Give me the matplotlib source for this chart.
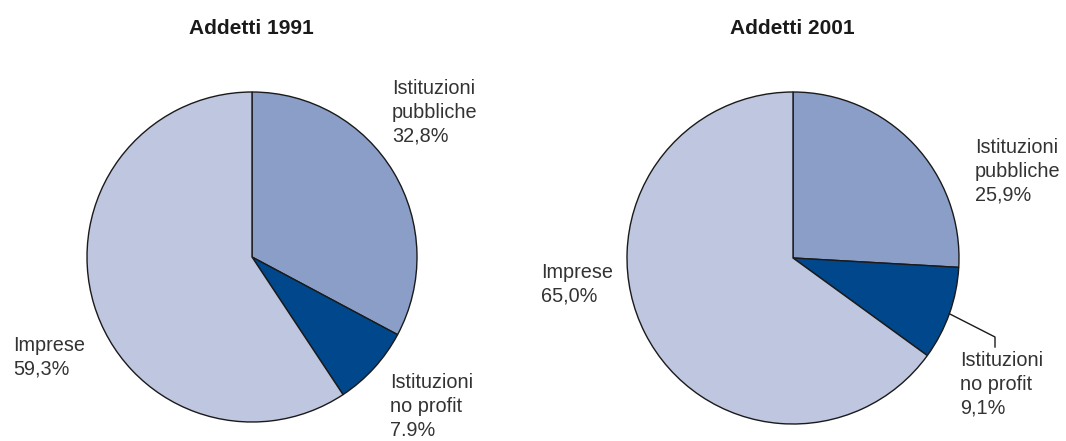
import numpy as np
import matplotlib.pyplot as plt

W, H = 1066, 441

titles = ["Addetti 1991", "Addetti 2001"]
categories = ["Istituzioni pubbliche", "Istituzioni no profit", "Imprese"]
values_1991 = [32.8, 7.9, 59.3]
values_2001 = [25.9, 9.1, 65.0]
labels_1991 = ["Istituzioni\npubbliche\n32,8%", "Istituzioni\nno profit\n7.9%", "Imprese\n59,3%"]
labels_2001 = ["Istituzioni\npubbliche\n25,9%", "Istituzioni\nno profit\n9,1%", "Imprese\n65,0%"]

colors = ["#8a9ec8", "#00478c", "#bec6e0"]

fig = plt.figure(figsize=(W / 100, H / 100), dpi=100)
ax = fig.add_axes([0, 0, 1, 1])


def py(y):
    # pixel y (top-down) -> data y (bottom-up)
    return H - y


lab_font = dict(family=["Liberation Sans", "DejaVu Sans"], fontsize=14.3,
                color="#333333", linespacing=1.32, va="top", ha="left")

pies = [
    (values_1991, labels_1991, titles[0], (252, 257), 165,
     [(392, 79), (390, 373), (13, 336)]),
    (values_2001, labels_2001, titles[1], (793, 258), 166,
     [(975, 138), (960, 351), (541, 263)]),
]

for vals, labs, title, (cx, cy), r, lpos in pies:
    wedges, _ = ax.pie(vals, colors=colors, startangle=90, counterclock=False,
                       center=(cx, py(cy)), radius=r, frame=True,
                       wedgeprops=dict(edgecolor="#1a1a1a", linewidth=1.0))
    ax.text(cx - 1, py(29), title, ha="center", va="center", fontsize=15,
            fontweight="bold", family=["Liberation Sans", "DejaVu Sans"], color="#1a1a1a")
    for lab, (x, y) in zip(labs, lpos):
        ax.text(x, py(y), lab, **lab_font)

# leader line for "Istituzioni no profit" 2001
w = wedges[1]
mid = np.deg2rad((w.theta1 + w.theta2) / 2)
x0 = 793 + 166 * np.cos(mid)
y0 = py(258) + 166 * np.sin(mid)
ax.plot([x0, 995, 995], [y0, py(337), py(347)], color="#1a1a1a", lw=1.0)

ax.set_xlim(0, W)
ax.set_ylim(0, H)
ax.set_aspect("equal")
ax.axis("off")

fig.savefig("out.png", dpi=100)
